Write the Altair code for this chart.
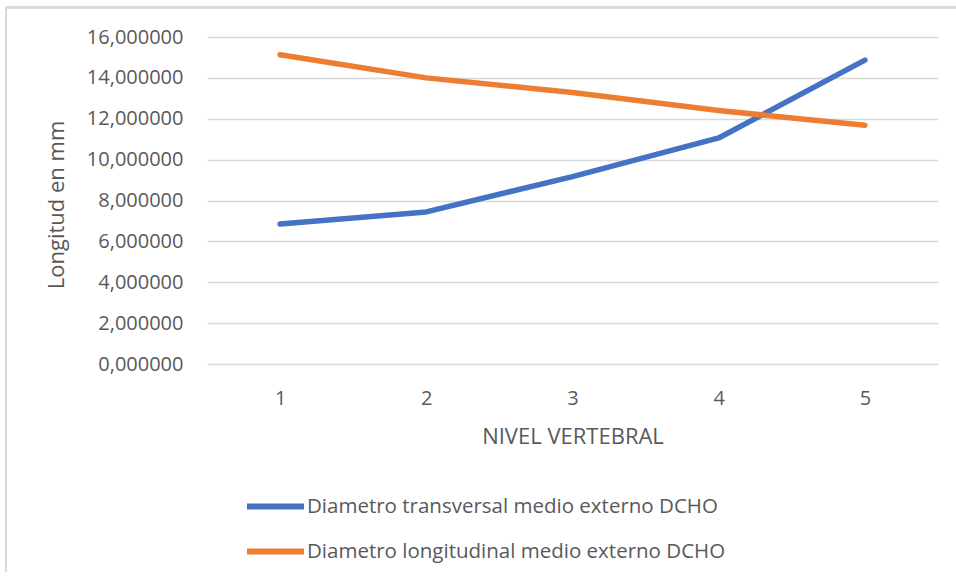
import altair as alt
import pandas as pd

# Vertebral levels and mean external diameters (mm)
niveles = [1, 2, 3, 4, 5]
transversal = [6.85, 7.44, 9.17, 11.06, 14.87]
longitudinal = [15.13, 14.00, 13.28, 12.40, 11.68]

serie_t = "Diametro transversal medio externo DCHO"
serie_l = "Diametro longitudinal medio externo DCHO"
series = [serie_t, serie_l]
colores = ["#4472C4", "#ED7D31"]
y_ticks = [0, 2, 4, 6, 8, 10, 12, 14, 16]

df = pd.DataFrame(
    {
        "nivel": niveles * 2,
        "valor": transversal + longitudinal,
        "serie": [serie_t] * len(niveles) + [serie_l] * len(niveles),
    }
)

FONT = "Open Sans"
TXT = "#595959"
GRID = "#D9D9D9"

W, H = 731, 327
PAD = {"left": 207, "top": 37, "right": 18, "bottom": 208}

lines = (
    alt.Chart(df)
    .mark_line(strokeWidth=5.5, strokeCap="round", strokeJoin="round")
    .encode(
        x=alt.X(
            "nivel:O",
            scale=alt.Scale(type="point", padding=0.5),
            axis=alt.Axis(
                title="NIVEL VERTEBRAL",
                labelAngle=0,
                labelFontSize=20,
                labelColor=TXT,
                labelFont=FONT,
                labelBaseline="middle",
                labelPadding=34,
                ticks=False,
                tickSize=0,
                domain=False,
                grid=False,
                titleFont=FONT,
                titleFontSize=22,
                titleFontWeight="normal",
                titleColor=TXT,
                titleX=W / 2,
                titleY=72,
                titleBaseline="middle",
                titleAlign="center",
            ),
        ),
        y=alt.Y(
            "valor:Q",
            scale=alt.Scale(domain=[0, 16], nice=False, zero=True),
            axis=alt.Axis(
                title="Longitud en mm",
                values=y_ticks,
                labelExpr="replace(format(datum.value, '.6f'), '.', ',')",
                labelFontSize=20,
                labelColor=TXT,
                labelFont=FONT,
                labelPadding=24,
                ticks=False,
                tickSize=0,
                domain=False,
                grid=True,
                gridColor=GRID,
                gridWidth=1.5,
                titleFont=FONT,
                titleFontSize=22,
                titleFontWeight="normal",
                titleColor=TXT,
                titleAngle=-90,
                titleX=-151,
                titleY=H / 2 + 4,
                titleBaseline="middle",
                titleAlign="center",
            ),
        ),
        color=alt.Color(
            "serie:N",
            scale=alt.Scale(domain=series, range=colores),
            sort=series,
            legend=alt.Legend(
                title=None,
                orient="none",
                legendX=37,
                legendY=H + 111,
                direction="vertical",
                symbolType="stroke",
                symbolSize=3249,
                symbolStrokeWidth=6,
                labelFont=FONT,
                labelFontSize=20.5,
                labelColor=TXT,
                labelOffset=0,
                labelLimit=800,
                rowPadding=1,
                padding=0,
            ),
        ),
    )
)

# Chart frame (top and left edges)
frame_top = alt.Chart(df).mark_rule(color=GRID, strokeWidth=1.5).encode(
    x=alt.value(-201), x2=alt.value(W + PAD["right"]), y=alt.value(-29.5)
)
frame_left = alt.Chart(df).mark_rule(color=GRID, strokeWidth=1.5).encode(
    x=alt.value(-201), y=alt.value(-29.5), y2=alt.value(H + PAD["bottom"])
)

chart = (
    alt.layer(frame_top, frame_left, lines)
    .properties(
        width=W,
        height=H,
        autosize=alt.AutoSizeParams(type="none"),
        padding=PAD,
        background="white",
    )
    .configure_view(stroke=None)
)

chart.save("out.html", embed_options={"renderer": "svg", "actions": False})
